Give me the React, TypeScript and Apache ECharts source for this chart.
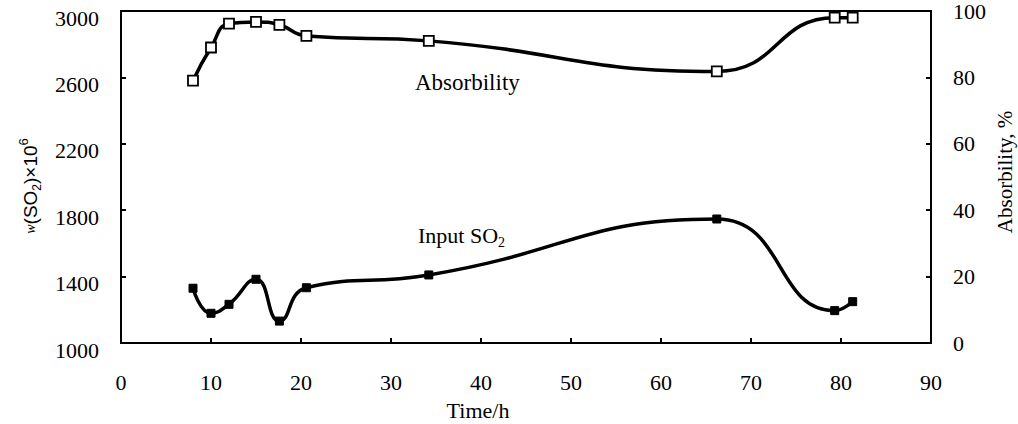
import React, { useEffect, useRef } from "react";
import * as echarts from "echarts";

const timeH = [8, 10, 12, 15, 17.6, 20.6, 34.2, 66.2, 79.3, 81.3];
const absorbility = [79, 89, 96.2, 96.7, 95.8, 92.5, 91, 81.8, 98, 98];
const inputSO2 = [1330, 1179, 1233, 1384, 1132, 1333, 1410, 1747, 1195, 1249];

const xMin = 0, xMax = 90, xStep = 10;
const leftMin = 1000, leftMax = 3000, leftStep = 400;
const rightMin = 0, rightMax = 100, rightStep = 20;

const FONT = "Liberation Serif";

export default function App() {
  const ref = useRef<HTMLDivElement>(null);
  useEffect(() => {
    if (!ref.current) return;
    const chart = echarts.init(ref.current, undefined, { renderer: "svg" });
    const axisCommon = {
      axisLine: { show: true, lineStyle: { color: "#000", width: 2 } },
      axisTick: { show: true, inside: true, length: 5, lineStyle: { color: "#000", width: 2 } },
      splitLine: { show: false },
    };
    const plain = (v: number) => String(v);
    chart.setOption({
      animation: false,
      backgroundColor: "#fff",
      grid: {
        left: 121, right: 87, top: 10, bottom: 81,
        show: true, borderColor: "#000", borderWidth: 2, backgroundColor: "transparent",
      },
      xAxis: {
        type: "value", min: xMin, max: xMax, interval: xStep,
        ...axisCommon,
        axisLabel: { color: "#000", fontFamily: FONT, fontSize: 22, margin: 28, formatter: plain },
      },
      yAxis: [
        {
          type: "value", min: leftMin, max: leftMax, interval: leftStep, position: "left",
          ...axisCommon,
          axisLabel: {
            color: "#000", fontFamily: FONT, fontSize: 22, margin: 22, formatter: plain,
            verticalAlign: "top", lineHeight: 14,
          },
        },
        {
          type: "value", min: rightMin, max: rightMax, interval: rightStep, position: "right",
          ...axisCommon,
          axisLabel: { color: "#000", fontFamily: FONT, fontSize: 22, margin: 22, formatter: plain },
        },
      ],
      series: [
        {
          name: "Absorbility", type: "line", yAxisIndex: 1, smooth: 0.5,
          data: timeH.map((t, i) => [t, absorbility[i]]),
          lineStyle: { color: "#000", width: 3.5 },
          symbol: "rect", symbolSize: 10,
          itemStyle: { color: "#fff", borderColor: "#000", borderWidth: 1.8 },
          z: 3,
        },
        {
          name: "Input SO2", type: "line", yAxisIndex: 0, smooth: 0.5,
          data: timeH.map((t, i) => [t, inputSO2[i]]),
          lineStyle: { color: "#000", width: 3.5 },
          symbol: "rect", symbolSize: 8,
          itemStyle: { color: "#000", borderColor: "#000", borderWidth: 1 },
          z: 3,
        },
      ],
      graphic: [
        {
          type: "text", left: 415, top: 71,
          style: { text: "Absorbility", font: `23px "${FONT}"`, fill: "#000" },
        },
        {
          type: "text", left: 418, top: 224,
          style: {
            text: "{a|Input SO}{s|2}",
            rich: {
              a: { fontFamily: FONT, fontSize: 22, lineHeight: 28, color: "#000" },
              s: { fontFamily: FONT, fontSize: 14, lineHeight: 16, verticalAlign: "bottom", color: "#000" },
            },
          },
        },
        {
          type: "text", x: 478, y: 410,
          style: { text: "Time/h", font: `22px "${FONT}"`, fill: "#000", align: "center", verticalAlign: "middle" },
        },
        {
          type: "text", x: 1005, y: 172, rotation: Math.PI / 2,
          style: { text: "Absorbility, %", font: `21px "${FONT}"`, fill: "#000", align: "center", verticalAlign: "middle" },
        },
        {
          type: "text", x: 30, y: 186, rotation: Math.PI / 2,
          style: {
            text: "{w|w}{a|(SO}{s|2}{a|)×10}{p|6}",
            align: "center", verticalAlign: "middle",
            rich: {
              w: { fontFamily: FONT, fontStyle: "italic", fontSize: 14, lineHeight: 26, color: "#000" },
              a: { fontFamily: "Liberation Sans", fontSize: 19, lineHeight: 26, color: "#000" },
              s: { fontFamily: "Liberation Sans", fontSize: 12, lineHeight: 14, verticalAlign: "bottom", color: "#000" },
              p: { fontFamily: "Liberation Sans", fontSize: 13, lineHeight: 14, verticalAlign: "top", color: "#000" },
            },
          },
        },
      ],
    });
    return () => chart.dispose();
  }, []);
  return (
    <div
      ref={ref}
      style={{ position: "fixed", left: 0, top: 0, width: 1018, height: 424, background: "#fff" }}
    />
  );
}
